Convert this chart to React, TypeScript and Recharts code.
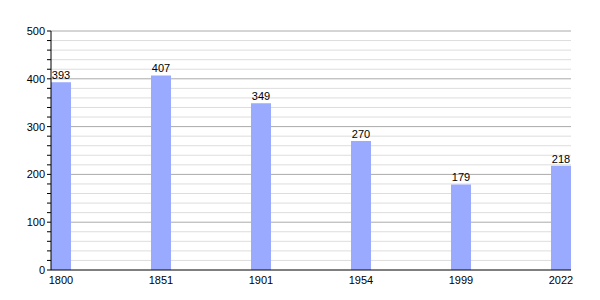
import { Bar, BarChart, CartesianGrid, LabelList, XAxis, YAxis } from "recharts";

const years = ["1800", "1851", "1901", "1954", "1999", "2022"];
const population = [393, 407, 349, 270, 179, 218];
const yTicks = [0, 20, 40, 60, 80, 100, 120, 140, 160, 180, 200, 220, 240, 260, 280, 300, 320, 340, 360, 380, 400, 420, 440, 460, 480, 500];
const majorTicks = [100, 200, 300, 400, 500];
const minorTicks = yTicks.filter((t) => t % 100 !== 0);

const data = years.map((y, i) => ({ i, year: y, value: population[i] }));

const font = "'Liberation Sans', Arial, sans-serif";

export default function App() {
  return (
    <div style={{ position: "absolute", left: 0, top: 0, width: 600, height: 300, background: "#fff", fontFamily: font }}>
      <BarChart width={600} height={300} data={data} margin={{ top: 31, right: 29, left: 0, bottom: 0 }}>
        <CartesianGrid vertical={false} horizontalValues={minorTicks} stroke="#dddddd" />
        <CartesianGrid vertical={false} horizontalValues={majorTicks} stroke="#aaaaaa" />
        <XAxis
          dataKey="i"
          type="number"
          domain={[-0.1, 5.1]}
          ticks={[0, 1, 2, 3, 4, 5]}
          tickFormatter={(v: number) => years[v]}
          tickLine={false}
          axisLine={{ stroke: "#000" }}
          height={30}
          tick={{ fill: "#000", stroke: "none", fontSize: 11, fontFamily: font }}
          tickMargin={0}
        />
        <YAxis
          domain={[0, 500]}
          ticks={yTicks}
          interval={0}
          width={51}
          tickFormatter={(v: number) => (v % 100 === 0 ? String(v) : "")}
          axisLine={{ stroke: "#000" }}
          tickLine={{ stroke: "#000" }}
          tickSize={4}
          tick={{ fill: "#000", stroke: "none", fontSize: 11, fontFamily: font }}
        />
        <Bar dataKey="value" fill="#99aaff" barSize={20} isAnimationActive={false}>
          <LabelList dataKey="value" position="top" offset={3} fill="#000" stroke="none" fontSize={11} fontFamily={font} />
        </Bar>
      </BarChart>
    </div>
  );
}
